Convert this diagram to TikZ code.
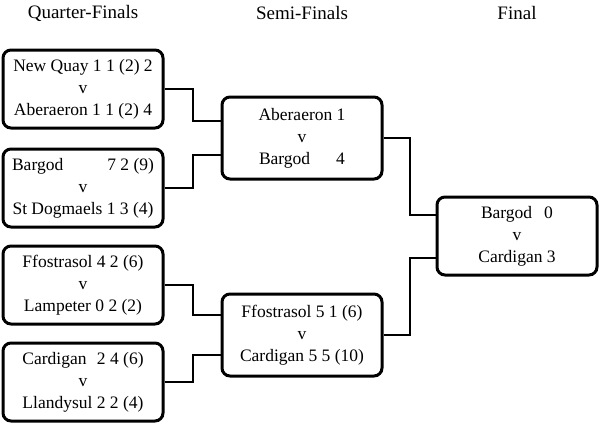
\documentclass[tikz,border=0pt]{standalone}
\usepackage{fontspec}
\setmainfont{Liberation Serif}
\usetikzlibrary{positioning}
\tikzset{
  tie/.style={draw, line width=3pt, rounded corners=8pt, minimum width=160pt, minimum height=78pt, align=center, font=\fontsize{17.5}{22}\selectfont, inner sep=0pt},
  head/.style={font=\fontsize{19}{20}\selectfont},
  link/.style={line width=1.2pt}
}
\begin{document}
\begin{tikzpicture}[x=1pt,y=-1pt]
\useasboundingbox (0,0) rectangle (600,426);
% titles
\node[head] (hq) at (83,13) {Quarter-Finals};
\node[head] (hs) at (302,13) {Semi-Finals};
\node[head] (hf) at (517,13) {Final};
% quarter-finals
\node[tie] (q1) at (83,89) {New Quay 1 1 (2) 2\\v\\Aberaeron 1 1 (2) 4};
\node[tie] (q2) at (83,188) {Bargod\hspace{44pt}7 2 (9)\\v\\St Dogmaels 1 3 (4)};
\node[tie] (q3) at (83,285) {Ffostrasol 4 2 (6)\\v\\Lampeter 0 2 (2)};
\node[tie] (q4) at (83,382) {Cardigan\hspace{6pt} 2 4 (6)\\v\\Llandysul 2 2 (4)};
% semi-finals
\node[tie, minimum height=82pt] (s1) at (302,138) {Aberaeron 1\\v\\Bargod\hspace{26pt}4};
\node[tie, minimum height=82pt] (s2) at (302,335) {Ffostrasol 5 1 (6)\\v\\Cardigan 5 5 (10)};
% final
\node[tie] (f) at (517,236) {Bargod\hspace{12pt}0\\v\\Cardigan 3};
% connectors
\draw[link] (q1.east) -| (193,121) -- (s1.west |- 0,121);
\draw[link] (q2.east) -| (193,155) -- (s1.west |- 0,155);
\draw[link] (q3.east) -| (193,315) -- (s2.west |- 0,315);
\draw[link] (q4.east) -| (193,355) -- (s2.west |- 0,355);
\draw[link] (s1.east) -| (410,215) -- (f.west |- 0,215);
\draw[link] (s2.east) -| (410,258) -- (f.west |- 0,258);
\end{tikzpicture}
\end{document}
